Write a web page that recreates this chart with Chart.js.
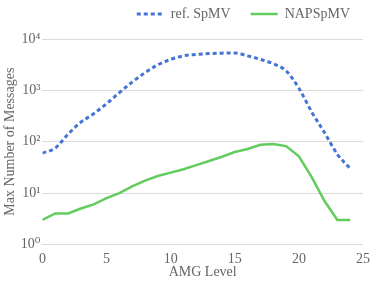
<!DOCTYPE html>
<html>
<head>
<meta charset="utf-8">
<script src="https://cdn.jsdelivr.net/npm/chart.js@4/dist/chart.umd.min.js"></script>
<style>
  html, body { margin: 0; padding: 0; background: #fff; }
  #wrap { width: 374px; height: 281px; }
</style>
</head>
<body>
<div id="wrap"><canvas id="chart"></canvas></div>
<script>
const levels = [0, 1, 2, 3, 4, 5, 6, 7, 8, 9, 10, 11, 12, 13, 14, 15, 16, 17, 18, 19, 20, 21, 22, 23, 24];
const refSpMV = [60, 75, 140, 240, 350, 550, 900, 1450, 2200, 3150, 4000, 4700, 5000, 5200, 5300, 5350, 4700, 4000, 3300, 2400, 1100, 380, 150, 57, 30];
const napSpMV = [3, 4, 4, 5, 6, 8, 10, 13.5, 17.5, 21.5, 25, 29, 35, 42, 51, 63, 72, 87, 90, 82, 52, 20.5, 7, 3, 3];
const yTicks = [1, 10, 100, 1000, 10000];
const yTickLabels = ['10⁰', '10¹', '10²', '10³', '10⁴'];

const FONT = "'Liberation Serif', 'DejaVu Serif', serif";
const TEXT = '#666';

const $CHART = document.getElementById('chart');

// extra gap under the legend
const legendGap = {
  id: 'legendGap',
  beforeInit(chart) {
    const fit = chart.legend.fit;
    chart.legend.fit = function () {
      fit.bind(chart.legend)();
      this.height += 8;
    };
  }
};

new Chart($CHART, {
  type: 'line',
  data: {
    datasets: [{
      label: 'ref. SpMV',
      data: levels.map((l, i) => ({ x: l, y: refSpMV[i] })),
      borderColor: '#4474d6',
      backgroundColor: '#4474d6',
      borderWidth: 3,
      borderDash: [4, 3],
      tension: 0.4,
      cubicInterpolationMode: 'monotone',
      pointRadius: 0,
      pointStyle: 'line'
    }, {
      label: 'NAPSpMV',
      data: levels.map((l, i) => ({ x: l, y: napSpMV[i] })),
      borderColor: '#62cc5e',
      backgroundColor: '#62cc5e',
      borderWidth: 2.5,
      tension: 0,
      pointRadius: 0,
      pointStyle: 'line'
    }]
  },
  options: {
    responsive: true,
    maintainAspectRatio: false,
    animation: false,
    layout: { padding: { left: 2, right: 4, top: -13, bottom: 0 } },
    scales: {
      x: {
        type: 'linear',
        min: 0,
        max: 25,
        afterFit: s => { s.paddingRight = 11; },
        ticks: { stepSize: 5, color: TEXT, font: { family: FONT, size: 14 }, padding: -1 },
        grid: { display: false },
        border: { display: false },
        title: { display: true, text: 'AMG Level', color: TEXT, font: { family: FONT, size: 14 }, padding: { top: -3, bottom: 0 } }
      },
      y: {
        type: 'logarithmic',
        min: 1,
        max: 10000,
        afterBuildTicks: s => { s.ticks = yTicks.map(v => ({ value: v })); },
        ticks: {
          color: TEXT,
          font: { family: FONT, size: 14 },
          padding: 2,
          callback: v => yTickLabels[yTicks.indexOf(v)]
        },
        grid: { color: '#dcdcdc', drawTicks: false, lineWidth: 1 },
        border: { display: false },
        title: { display: true, text: 'Max Number of Messages', color: TEXT, font: { family: FONT, size: 14 }, padding: 0 }
      }
    },
    plugins: {
      legend: {
        position: 'top',
        align: 'end',
        labels: {
          usePointStyle: true,
          pointStyle: 'line',
          pointStyleWidth: 27,
          boxWidth: 27,
          boxHeight: 10,
          padding: 20,
          color: TEXT,
          font: { family: FONT, size: 14 },
          generateLabels: chart => Chart.defaults.plugins.legend.labels.generateLabels(chart).map((item, i) => ({
            ...item,
            lineDash: chart.data.datasets[i].borderDash || [],
            lineWidth: chart.data.datasets[i].borderWidth,
            strokeStyle: chart.data.datasets[i].borderColor
          }))
        }
      },
      tooltip: { enabled: false }
    }
  },
  plugins: [legendGap]
});
</script>
</body>
</html>
